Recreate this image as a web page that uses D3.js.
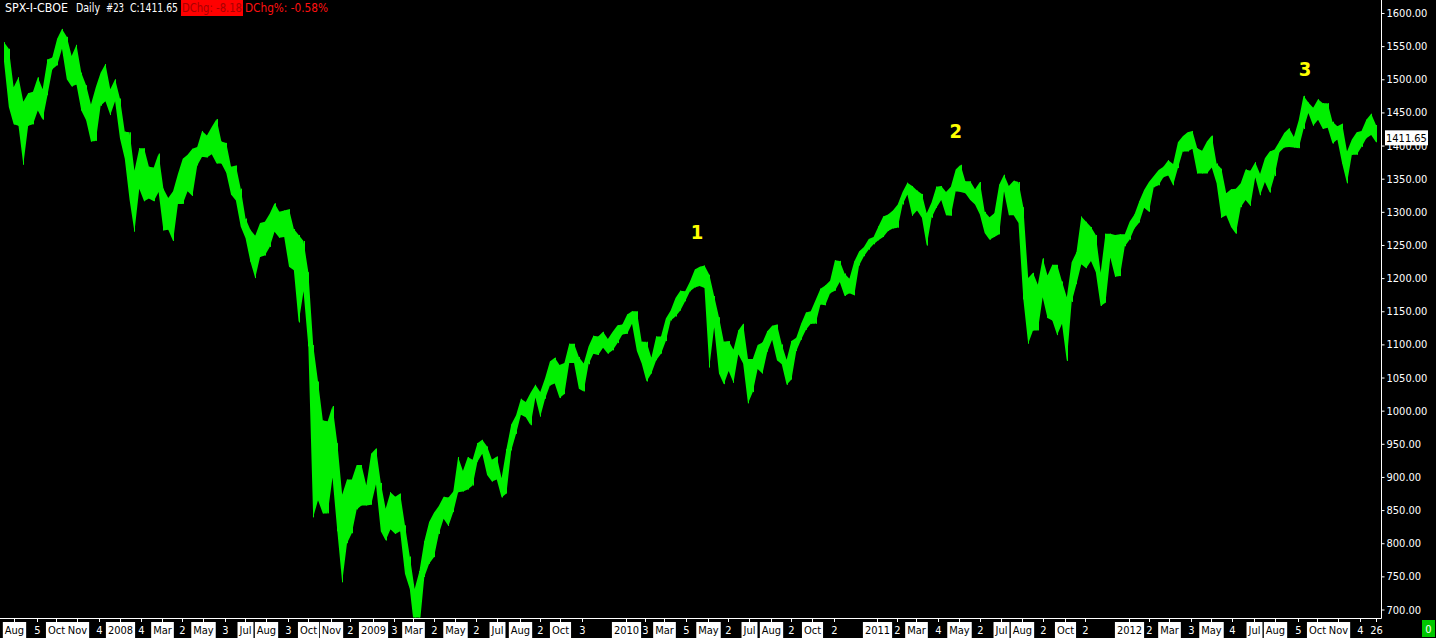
<!DOCTYPE html>
<html>
<head>
<meta charset="utf-8">
<script src="https://cdn.jsdelivr.net/npm/d3@7"></script>
<style>
html, body { margin: 0; padding: 0; background: #000; overflow: hidden; }
svg { display: block; }
text { font-family: Tahoma, "DejaVu Sans Condensed", "Liberation Sans", Arial, sans-serif; }
</style>
</head>
<body>
<svg id="chart" width="1436" height="638"></svg>
<script>
// weekly high / low of SPX, one value per week (week ending Friday)
const hi2007 = [1556, 1546, 1488, 1503, 1466, 1479, 1481, 1503, 1485, 1530, 1533, 1561, 1576, 1564, 1535, 1552, 1510, 1491, 1462, 1488, 1510, 1523, 1485, 1500];
const lo2007 = [1527, 1458, 1432, 1430, 1371, 1430, 1432, 1453, 1439, 1476, 1515, 1521, 1546, 1500, 1489, 1492, 1453, 1438, 1406, 1407, 1460, 1467, 1446, 1467];

const hi2008 = [1471, 1421, 1420, 1362, 1396, 1396, 1368, 1367, 1388, 1335, 1321, 1331, 1357, 1380, 1386, 1395, 1398, 1422, 1415, 1428, 1440, 1406, 1404, 1368, 1370, 1335, 1290, 1273, 1264, 1283, 1285, 1297, 1313, 1300, 1302, 1304, 1274, 1265, 1256, 1209, 1099, 1044, 985, 984, 1007, 951, 873, 896, 896, 918, 918, 887];
const lo2008 = [1411, 1380, 1318, 1270, 1335, 1316, 1320, 1316, 1330, 1272, 1273, 1256, 1312, 1312, 1331, 1324, 1370, 1383, 1382, 1387, 1373, 1373, 1359, 1326, 1317, 1278, 1260, 1225, 1200, 1232, 1234, 1247, 1270, 1261, 1262, 1217, 1212, 1133, 1180, 1097, 839, 865, 845, 845, 899, 818, 741, 800, 815, 851, 857, 857];

const hi2009 = [935, 943, 891, 852, 877, 870, 875, 827, 780, 731, 758, 803, 832, 846, 856, 870, 869, 878, 930, 909, 930, 926, 951, 956, 946, 926, 931, 898, 942, 979, 993, 1018, 1013, 1027, 1039, 1028, 1049, 1074, 1080, 1069, 1072, 1101, 1101, 1081, 1071, 1097, 1113, 1112, 1119, 1108, 1119, 1129];
const lo2009 = [858, 889, 818, 804, 821, 814, 818, 754, 731, 667, 672, 749, 769, 779, 814, 837, 826, 847, 877, 878, 881, 887, 923, 935, 903, 893, 896, 869, 875, 940, 965, 994, 990, 978, 1020, 991, 1018, 1038, 1041, 1019, 1025, 1072, 1072, 1033, 1029, 1070, 1086, 1084, 1095, 1086, 1091, 1102];

const hi2010 = [1130, 1145, 1150, 1150, 1104, 1104, 1080, 1112, 1112, 1139, 1151, 1170, 1181, 1180, 1195, 1213, 1217, 1219, 1205, 1173, 1141, 1104, 1105, 1092, 1121, 1131, 1078, 1078, 1099, 1103, 1120, 1128, 1130, 1100, 1077, 1105, 1110, 1131, 1148, 1150, 1167, 1184, 1189, 1196, 1227, 1226, 1207, 1199, 1225, 1240, 1247, 1259, 1262];
const lo2010 = [1115, 1116, 1131, 1090, 1071, 1044, 1056, 1076, 1086, 1105, 1136, 1142, 1151, 1165, 1180, 1186, 1188, 1185, 1065, 1126, 1056, 1040, 1060, 1042, 1085, 1071, 1011, 1028, 1063, 1056, 1089, 1107, 1076, 1070, 1039, 1047, 1090, 1107, 1122, 1131, 1131, 1160, 1159, 1177, 1181, 1194, 1173, 1177, 1174, 1219, 1233, 1243, 1251];

const hi2011 = [1278, 1293, 1296, 1302, 1311, 1330, 1344, 1339, 1332, 1327, 1298, 1314, 1338, 1339, 1330, 1338, 1364, 1371, 1346, 1346, 1334, 1345, 1300, 1292, 1298, 1341, 1356, 1339, 1347, 1345, 1307, 1200, 1208, 1190, 1230, 1204, 1220, 1220, 1195, 1171, 1224, 1239, 1293, 1285, 1277, 1265, 1208, 1267, 1267, 1265, 1266, 1266];
const lo2011 = [1257, 1262, 1271, 1275, 1276, 1311, 1326, 1294, 1302, 1291, 1249, 1291, 1306, 1318, 1295, 1294, 1331, 1330, 1328, 1318, 1311, 1296, 1268, 1258, 1262, 1266, 1331, 1295, 1295, 1283, 1168, 1101, 1121, 1121, 1171, 1140, 1136, 1114, 1131, 1075, 1164, 1191, 1221, 1215, 1226, 1209, 1158, 1163, 1231, 1202, 1203, 1248];

const hi2012 = [1285, 1296, 1316, 1333, 1345, 1354, 1363, 1368, 1378, 1372, 1405, 1414, 1420, 1422, 1396, 1392, 1406, 1415, 1373, 1365, 1328, 1334, 1335, 1343, 1364, 1362, 1375, 1357, 1381, 1391, 1394, 1406, 1419, 1426, 1413, 1438, 1475, 1465, 1457, 1470, 1464, 1464, 1436, 1429, 1433, 1391, 1409, 1420, 1422, 1439, 1448, 1431];
const lo2012 = [1258, 1275, 1284, 1306, 1300, 1337, 1340, 1352, 1355, 1340, 1366, 1391, 1391, 1395, 1358, 1358, 1358, 1367, 1343, 1291, 1295, 1277, 1267, 1307, 1318, 1309, 1352, 1325, 1345, 1329, 1354, 1390, 1397, 1398, 1397, 1396, 1425, 1449, 1430, 1439, 1425, 1427, 1403, 1409, 1373, 1343, 1386, 1386, 1398, 1411, 1416, 1405];

const lastClose = 1411.65;

const yTicks = [700, 750, 800, 850, 900, 950, 1000, 1050, 1100, 1150, 1200, 1250, 1300, 1350, 1400, 1450, 1500, 1550, 1600];

// first trading day of the month and the label the chart shows under it
const xLabels = [
  ["2007-08-01", "Aug"], ["2007-09-04", "5"], ["2007-10-01", "Oct"], ["2007-11-01", "Nov"], ["2007-12-03", "4"],
  ["2008-01-02", "2008"], ["2008-02-01", "4"], ["2008-03-03", "Mar"], ["2008-04-01", "2"], ["2008-05-01", "May"],
  ["2008-06-02", "3"], ["2008-07-01", "Jul"], ["2008-08-01", "Aug"], ["2008-09-02", "3"], ["2008-10-01", "Oct"],
  ["2008-11-03", "Nov"], ["2008-12-01", "2"],
  ["2009-01-02", "2009"], ["2009-02-02", "3"], ["2009-03-02", "Mar"], ["2009-04-01", "2"], ["2009-05-01", "May"],
  ["2009-06-01", "2"], ["2009-07-01", "Jul"], ["2009-08-03", "Aug"], ["2009-09-01", "2"], ["2009-10-01", "Oct"],
  ["2009-11-02", "3"],
  ["2010-01-04", "2010"], ["2010-02-01", "3"], ["2010-03-01", "Mar"], ["2010-04-01", "5"], ["2010-05-03", "May"],
  ["2010-06-01", "2"], ["2010-07-01", "Jul"], ["2010-08-02", "Aug"], ["2010-09-01", "2"], ["2010-10-01", "Oct"],
  ["2010-11-01", "2"],
  ["2011-01-03", "2011"], ["2011-02-01", "2"], ["2011-03-01", "Mar"], ["2011-04-01", "4"], ["2011-05-02", "May"],
  ["2011-06-01", "2"], ["2011-07-01", "Jul"], ["2011-08-01", "Aug"], ["2011-09-01", "2"], ["2011-10-03", "Oct"],
  ["2011-11-01", "2"],
  ["2012-01-03", "2012"], ["2012-02-01", "2"], ["2012-03-01", "Mar"], ["2012-04-02", "3"], ["2012-05-01", "May"],
  ["2012-06-01", "4"], ["2012-07-02", "Jul"], ["2012-08-01", "Aug"], ["2012-09-04", "5"], ["2012-10-01", "Oct"],
  ["2012-11-01", "Nov"], ["2012-12-03", "4"], ["2012-12-26", "26"]
];

// header pieces: text, left edge, width, colour
const headerParts = [
  ["SPX-I-CBOE", 5, 63, "#fff"],
  ["Daily", 76, 24, "#fff"],
  ["#23", 106, 18, "#fff"],
  ["C:1411.65", 130, 48, "#fff"],
  ["DChg: -8.18", 182, 60, "#a80000"],
  ["DChg%: -0.58%", 245, 83, "#ff1010"]
];

// wave labels drawn above the tops
const waveLabels = [
  { text: "1", date: "2010-04-17", value: 1270 },
  { text: "2", date: "2011-04-27", value: 1422 },
  { text: "3", date: "2012-09-14", value: 1515 }
];

const W = 1436, H = 638;
const plotRight = 1381, plotBottom = 618;
const green = "#00f000";
const parse = d3.timeParse("%Y-%m-%d");

const svg = d3.select("#chart");
svg.append("rect").attr("width", W).attr("height", H).attr("fill", "#000");

const x = d3.scaleTime()
    .domain([new Date(2007, 6, 18), new Date(2012, 11, 26)])
    .range([4, 1376]);
const y = d3.scaleLinear().domain([700, 1600]).range([609.5, 13]);

// one point per week, placed at mid-week
const highs = [].concat(hi2007, hi2008, hi2009, hi2010, hi2011, hi2012);
const lows = [].concat(lo2007, lo2008, lo2009, lo2010, lo2011, lo2012);
const fridays = d3.timeFriday.range(new Date(2007, 6, 20), new Date(2012, 11, 29));
const weeks = fridays.map((f, i) => ({ date: d3.timeDay.offset(f, -2), hi: highs[i], lo: lows[i] }))
    .filter(d => d.hi != null);

svg.append("clipPath").attr("id", "plotClip")
  .append("rect").attr("x", 0).attr("y", 0).attr("width", plotRight).attr("height", plotBottom - 0.5);

const band = d3.area()
    .x(d => x(d.date))
    .y0(d => y(d.lo))
    .y1(d => y(d.hi));

const plot = svg.append("g").attr("clip-path", "url(#plotClip)");
plot.append("path")
    .datum(weeks)
    .attr("d", band)
    .attr("fill", green);

// weekly high-low bars, so the spikes keep their tips
plot.selectAll("line.bar")
  .data(weeks)
  .join("line")
    .attr("class", "bar")
    .attr("x1", d => Math.round(x(d.date)) + 0.5)
    .attr("x2", d => Math.round(x(d.date)) + 0.5)
    .attr("y1", d => y(d.hi))
    .attr("y2", d => y(d.lo))
    .attr("stroke", green)
    .attr("stroke-width", 1);

// price axis on the right
const yAxis = svg.append("g")
    .attr("transform", `translate(${plotRight + 0.5},0)`)
    .call(d3.axisRight(y).tickValues(yTicks).tickSize(3).tickPadding(2).tickFormat(d3.format(".2f")));
yAxis.select(".domain").remove();
yAxis.selectAll("line").attr("stroke", "#fff");
yAxis.selectAll("text").attr("fill", "#fff").attr("font-size", "11px").attr("font-family", null);

svg.append("line")
    .attr("x1", plotRight + 0.5).attr("x2", plotRight + 0.5)
    .attr("y1", 0).attr("y2", plotBottom + 0.5)
    .attr("stroke", "#fff");
svg.append("line")
    .attr("x1", 0).attr("x2", plotRight + 0.5)
    .attr("y1", plotBottom + 0.5).attr("y2", plotBottom + 0.5)
    .attr("stroke", "#fff");

// last price marker
const py = y(lastClose);
svg.append("rect").attr("x", 1385).attr("y", py - 7.5).attr("width", 43).attr("height", 15).attr("fill", "#fff");
svg.append("text").attr("x", 1386).attr("y", py).attr("dy", "0.35em")
    .attr("font-size", "11px").attr("fill", "#000").text(lastClose.toFixed(2));

// date axis at the bottom
const xl = svg.append("g");
xLabels.forEach(([d, t]) => {
  const px = Math.round(x(parse(d))) + 0.5;
  xl.append("line").attr("x1", px).attr("x2", px).attr("y1", plotBottom).attr("y2", plotBottom + 4).attr("stroke", "#fff");
  const boxed = isNaN(+t) || t.length === 4;
  const g = xl.append("g");
  const txt = g.append("text").attr("x", px).attr("y", 630).attr("dy", "0.35em")
      .attr("text-anchor", "middle").attr("font-size", "11px")
      .attr("fill", boxed ? "#000" : "#fff").text(t);
  if (boxed) {
    const w = txt.node().getComputedTextLength() + 4;
    g.insert("rect", "text").attr("x", px - w / 2).attr("y", 622).attr("width", w).attr("height", 16).attr("fill", "#fff");
  }
});

// status box bottom right
svg.append("rect").attr("x", 1422).attr("y", 620).attr("width", 13).attr("height", 17).attr("fill", "#00c800");
svg.append("text").attr("x", 1428.5).attr("y", 629).attr("dy", "0.35em").attr("text-anchor", "middle")
    .attr("font-size", "11px").attr("fill", "#fff").text("0");

// header line
const head = svg.append("g").attr("font-size", "11.5px");
head.append("rect").attr("x", 181).attr("y", 0).attr("width", 62).attr("height", 16).attr("fill", "#ff0000");
headerParts.forEach(([t, hx, hw, c]) => {
  head.append("text").attr("x", hx).attr("y", 12)
      .attr("textLength", hw).attr("lengthAdjust", "spacingAndGlyphs")
      .attr("fill", c).text(t);
});

// wave numbers
svg.append("g").selectAll("text")
  .data(waveLabels)
  .join("text")
    .attr("x", d => x(parse(d.date)))
    .attr("y", d => y(d.value))
    .attr("dy", "0.35em")
    .attr("text-anchor", "middle")
    .attr("font-size", "20px")
    .attr("font-weight", "bold")
    .attr("fill", "#ffff00")
    .text(d => d.text);
</script>
</body>
</html>
